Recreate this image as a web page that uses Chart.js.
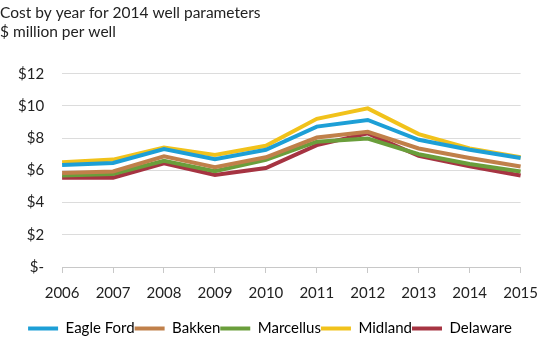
<!DOCTYPE html>
<html lang="en">
<head>
<meta charset="UTF-8">
<title>Cost by year for 2014 well parameters</title>
<script src="https://cdn.jsdelivr.net/npm/chart.js"></script>
<style>
  body { margin: 0; background: #fff; }
  #wrap { width: 540px; height: 344px; }
</style>
</head>
<body>
<div id="wrap"><canvas id="costChart" width="540" height="344"></canvas></div>
<script>
// Data ($ million per well)
const years = ['2006', '2007', '2008', '2009', '2010', '2011', '2012', '2013', '2014', '2015'];
const eagleFord = [6.34, 6.46, 7.32, 6.70, 7.28, 8.72, 9.13, 7.90, 7.28, 6.77];
const bakken    = [5.83, 5.93, 6.87, 6.20, 6.81, 8.04, 8.39, 7.36, 6.77, 6.24];
const marcellus = [5.68, 5.78, 6.60, 5.95, 6.65, 7.78, 7.98, 7.00, 6.40, 5.93];
const midland   = [6.50, 6.67, 7.42, 6.95, 7.53, 9.20, 9.85, 8.25, 7.36, 6.81];
const delaware  = [5.54, 5.54, 6.44, 5.72, 6.15, 7.57, 8.30, 6.91, 6.26, 5.68];
const yTicks = [0, 2, 4, 6, 8, 10, 12];

const font = 'Lato, "Open Sans", sans-serif';

function series(label, data, color) {
    return {
        label: label,
        data: data,
        borderColor: color,
        backgroundColor: color,
        borderWidth: 4,
        pointRadius: 0,
        tension: 0,
        fill: false
    };
}

const ctx = document.getElementById('costChart').getContext('2d');
new Chart(ctx, {
    type: 'line',
    data: {
        labels: years,
        datasets: [
            series('Eagle Ford', eagleFord, '#1d9fd6'),
            series('Bakken', bakken, '#c0804a'),
            series('Marcellus', marcellus, '#6a9e3b'),
            series('Midland', midland, '#f1c21b'),
            series('Delaware', delaware, '#a63442')
        ]
    },
    options: {
        responsive: false,
        animation: false,
        layout: { padding: { left: 0, right: 0, top: 0, bottom: -2 } },
        plugins: {
            title: {
                display: true,
                align: 'start',
                text: ['Cost by year for 2014 well parameters', '$ million per well'],
                color: '#222',
                font: { family: font, size: 15.5, weight: 'normal', lineHeight: 1.25 },
                padding: { top: 3, bottom: 32 }
            },
            legend: {
                position: 'bottom',
                labels: {
                    color: '#222',
                    font: { family: font, size: 15 },
                    boxWidth: 30,
                    boxHeight: 4,
                    padding: 0,
                    generateLabels: function (chart) {
                        return chart.data.datasets.map((ds, i) => ({
                            text: ds.label,
                            fillStyle: ds.borderColor,
                            strokeStyle: ds.borderColor,
                            lineWidth: 0,
                            hidden: false,
                            datasetIndex: i
                        }));
                    }
                }
            },
            tooltip: { enabled: false }
        },
        scales: {
            x: {
                offset: false,
                // keep the label gap without widening the side padding
                afterFit: function (axis) { axis.height += 8; },
                grid: {
                    display: true,
                    drawOnChartArea: false,
                    drawTicks: true,
                    tickLength: 6,
                    color: '#c8c8c8'
                },
                border: { display: true, color: '#c8c8c8' },
                ticks: {
                    color: '#222',
                    font: { family: font, size: 15, lineHeight: 2.4 },
                    padding: 2,
                    maxRotation: 0
                }
            },
            y: {
                min: 0,
                max: 12,
                afterBuildTicks: function (axis) {
                    axis.ticks = yTicks.map(v => ({ value: v }));
                },
                grid: { color: '#dcdcdc', drawTicks: false },
                border: { display: false },
                ticks: {
                    color: '#222',
                    font: { family: font, size: 15 },
                    padding: 18,
                    callback: function (v) { return v === 0 ? '$-' : '$' + v; }
                }
            }
        }
    }
});
</script>
</body>
</html>
